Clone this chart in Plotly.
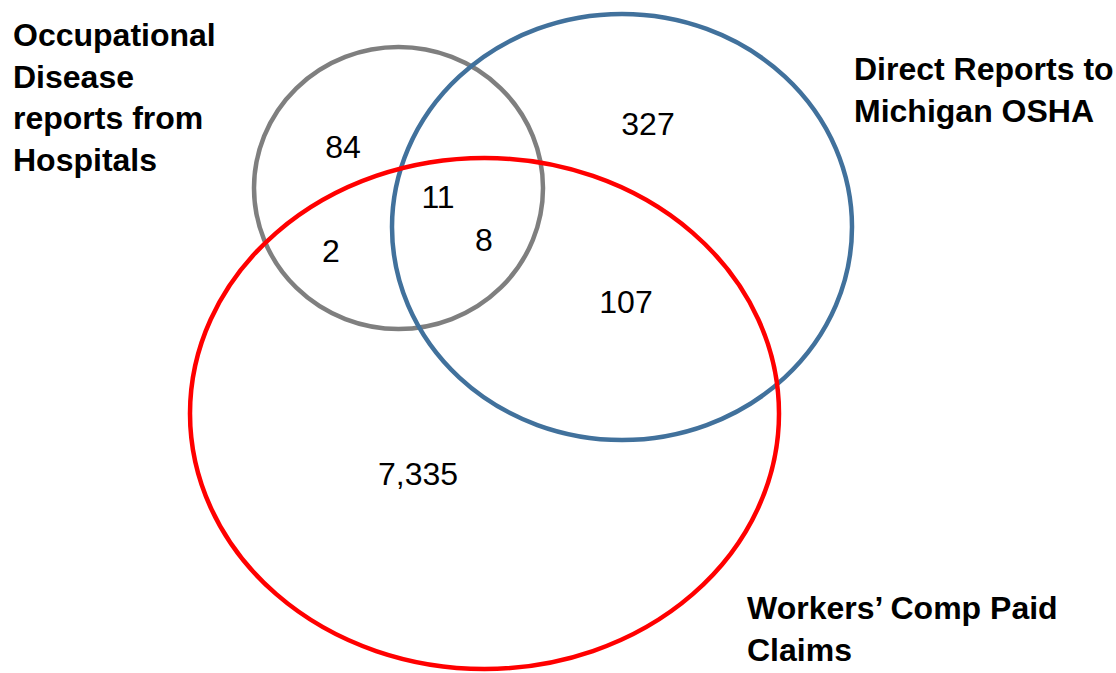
import plotly.graph_objects as go

# ---- data ----
set_names = [
    "Occupational<br>Disease<br>reports from<br>Hospitals",
    "Direct Reports to<br>Michigan OSHA",
    "Workers’ Comp Paid<br>Claims",
]
region_labels = ["Hosp only", "OSHA only", "Hosp+OSHA", "Hosp+WC", "All three", "OSHA+WC", "WC only"]
region_counts = ["84", "327", "11", "2", "8", "107", "7,335"]

# ---- layout (pixel coordinates, y down) ----
region_x = [343, 648, 438, 331, 484, 626, 418]
region_y = [150, 127, 200, 254, 243, 305, 477]

ellipses = [  # x0, y0, x1, y1, color
    (254, 47, 543, 329, "#7f7f7f"),
    (392, 14, 852, 440, "#41719c"),
    (190, 158, 779, 669, "#ff0000"),
]
title_pos = [(11, 15), (852, 49), (745, 588)]

W, H = 1116, 673
FONT = "Liberation Sans, Arial, sans-serif"

fig = go.Figure()
fig.add_trace(go.Scatter(
    x=region_x, y=region_y, text=region_counts, customdata=region_labels,
    mode="text", textposition="middle center",
    textfont=dict(family=FONT, size=32, color="black"),
    hoverinfo="skip", showlegend=False,
))

shapes = []
for x0, y0, x1, y1, c in ellipses:
    shapes.append(dict(type="circle", xref="x", yref="y", x0=x0, y0=y0, x1=x1, y1=y1,
                       line=dict(color=c, width=4.5), fillcolor="rgba(0,0,0,0)", layer="above"))

annotations = []
for name, (ax, ay) in zip(set_names, title_pos):
    annotations.append(dict(x=ax, y=ay, xref="x", yref="y", text="<b>" + name + "</b>",
                            showarrow=False, xanchor="left", yanchor="top", align="left",
                            font=dict(family=FONT, size=32, color="black")))

fig.update_layout(
    width=W, height=H, margin=dict(l=0, r=0, t=0, b=0),
    paper_bgcolor="white", plot_bgcolor="white",
    xaxis=dict(range=[0, W], visible=False, fixedrange=True),
    yaxis=dict(range=[H, 0], visible=False, fixedrange=True),
    shapes=shapes, annotations=annotations, showlegend=False,
)
fig.write_html("out.html", config={"displayModeBar": False},
               post_script="document.body.style.margin='0';document.body.style.overflow='hidden';")
